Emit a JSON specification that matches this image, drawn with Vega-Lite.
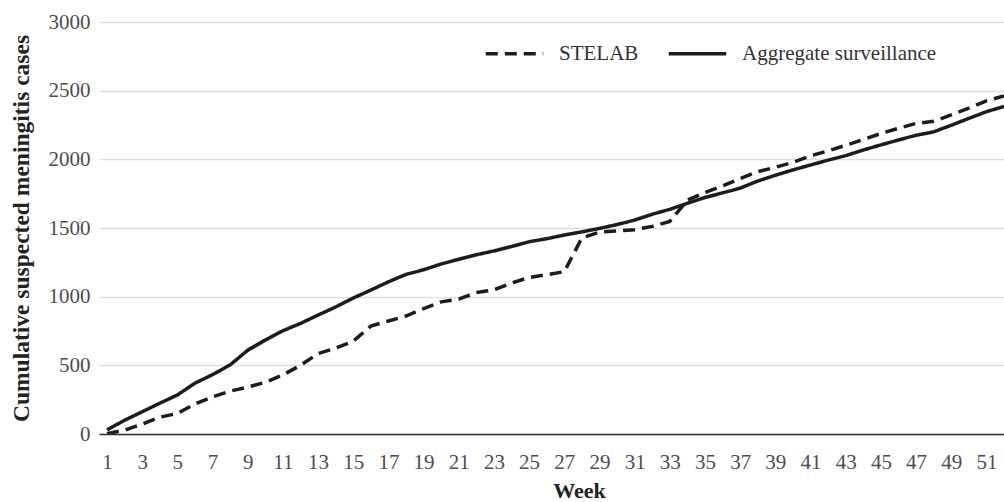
{
  "$schema": "https://vega.github.io/schema/vega-lite/v6.json",
  "width": 905,
  "height": 412,
  "autosize": {"type": "none"},
  "padding": {"left": 99, "top": 22, "right": 0, "bottom": 68},
  "background": "white",
  "config": {
    "font": "Liberation Serif, DejaVu Serif, serif",
    "view": {"stroke": null}
  },
  "datasets": {
    "weekly": [
      {"week": 1, "series": "STELAB", "cases": 2}, {"week": 2, "series": "STELAB", "cases": 28}, {"week": 3, "series": "STELAB", "cases": 72}, {"week": 4, "series": "STELAB", "cases": 122}, {"week": 5, "series": "STELAB", "cases": 150}, {"week": 6, "series": "STELAB", "cases": 218}, {"week": 7, "series": "STELAB", "cases": 270}, {"week": 8, "series": "STELAB", "cases": 312}, {"week": 9, "series": "STELAB", "cases": 342}, {"week": 10, "series": "STELAB", "cases": 376}, {"week": 11, "series": "STELAB", "cases": 430}, {"week": 12, "series": "STELAB", "cases": 500}, {"week": 13, "series": "STELAB", "cases": 585}, {"week": 14, "series": "STELAB", "cases": 626}, {"week": 15, "series": "STELAB", "cases": 675}, {"week": 16, "series": "STELAB", "cases": 786}, {"week": 17, "series": "STELAB", "cases": 823}, {"week": 18, "series": "STELAB", "cases": 859}, {"week": 19, "series": "STELAB", "cases": 913}, {"week": 20, "series": "STELAB", "cases": 962}, {"week": 21, "series": "STELAB", "cases": 982}, {"week": 22, "series": "STELAB", "cases": 1030}, {"week": 23, "series": "STELAB", "cases": 1049}, {"week": 24, "series": "STELAB", "cases": 1100}, {"week": 25, "series": "STELAB", "cases": 1140}, {"week": 26, "series": "STELAB", "cases": 1160}, {"week": 27, "series": "STELAB", "cases": 1182}, {"week": 28, "series": "STELAB", "cases": 1428}, {"week": 29, "series": "STELAB", "cases": 1470}, {"week": 30, "series": "STELAB", "cases": 1478}, {"week": 31, "series": "STELAB", "cases": 1488}, {"week": 32, "series": "STELAB", "cases": 1512}, {"week": 33, "series": "STELAB", "cases": 1548}, {"week": 34, "series": "STELAB", "cases": 1703}, {"week": 35, "series": "STELAB", "cases": 1758}, {"week": 36, "series": "STELAB", "cases": 1806}, {"week": 37, "series": "STELAB", "cases": 1860}, {"week": 38, "series": "STELAB", "cases": 1910}, {"week": 39, "series": "STELAB", "cases": 1942}, {"week": 40, "series": "STELAB", "cases": 1978}, {"week": 41, "series": "STELAB", "cases": 2025}, {"week": 42, "series": "STELAB", "cases": 2062}, {"week": 43, "series": "STELAB", "cases": 2102}, {"week": 44, "series": "STELAB", "cases": 2145}, {"week": 45, "series": "STELAB", "cases": 2188}, {"week": 46, "series": "STELAB", "cases": 2226}, {"week": 47, "series": "STELAB", "cases": 2262}, {"week": 48, "series": "STELAB", "cases": 2277}, {"week": 49, "series": "STELAB", "cases": 2323}, {"week": 50, "series": "STELAB", "cases": 2372}, {"week": 51, "series": "STELAB", "cases": 2426}, {"week": 52, "series": "STELAB", "cases": 2462},
      {"week": 1, "series": "Aggregate surveillance", "cases": 30}, {"week": 2, "series": "Aggregate surveillance", "cases": 100}, {"week": 3, "series": "Aggregate surveillance", "cases": 162}, {"week": 4, "series": "Aggregate surveillance", "cases": 224}, {"week": 5, "series": "Aggregate surveillance", "cases": 284}, {"week": 6, "series": "Aggregate surveillance", "cases": 370}, {"week": 7, "series": "Aggregate surveillance", "cases": 432}, {"week": 8, "series": "Aggregate surveillance", "cases": 503}, {"week": 9, "series": "Aggregate surveillance", "cases": 610}, {"week": 10, "series": "Aggregate surveillance", "cases": 684}, {"week": 11, "series": "Aggregate surveillance", "cases": 752}, {"week": 12, "series": "Aggregate surveillance", "cases": 805}, {"week": 13, "series": "Aggregate surveillance", "cases": 866}, {"week": 14, "series": "Aggregate surveillance", "cases": 925}, {"week": 15, "series": "Aggregate surveillance", "cases": 990}, {"week": 16, "series": "Aggregate surveillance", "cases": 1048}, {"week": 17, "series": "Aggregate surveillance", "cases": 1108}, {"week": 18, "series": "Aggregate surveillance", "cases": 1162}, {"week": 19, "series": "Aggregate surveillance", "cases": 1196}, {"week": 20, "series": "Aggregate surveillance", "cases": 1238}, {"week": 21, "series": "Aggregate surveillance", "cases": 1272}, {"week": 22, "series": "Aggregate surveillance", "cases": 1305}, {"week": 23, "series": "Aggregate surveillance", "cases": 1333}, {"week": 24, "series": "Aggregate surveillance", "cases": 1365}, {"week": 25, "series": "Aggregate surveillance", "cases": 1400}, {"week": 26, "series": "Aggregate surveillance", "cases": 1422}, {"week": 27, "series": "Aggregate surveillance", "cases": 1449}, {"week": 28, "series": "Aggregate surveillance", "cases": 1472}, {"week": 29, "series": "Aggregate surveillance", "cases": 1497}, {"week": 30, "series": "Aggregate surveillance", "cases": 1525}, {"week": 31, "series": "Aggregate surveillance", "cases": 1558}, {"week": 32, "series": "Aggregate surveillance", "cases": 1600}, {"week": 33, "series": "Aggregate surveillance", "cases": 1636}, {"week": 34, "series": "Aggregate surveillance", "cases": 1680}, {"week": 35, "series": "Aggregate surveillance", "cases": 1722}, {"week": 36, "series": "Aggregate surveillance", "cases": 1756}, {"week": 37, "series": "Aggregate surveillance", "cases": 1790}, {"week": 38, "series": "Aggregate surveillance", "cases": 1842}, {"week": 39, "series": "Aggregate surveillance", "cases": 1884}, {"week": 40, "series": "Aggregate surveillance", "cases": 1923}, {"week": 41, "series": "Aggregate surveillance", "cases": 1959}, {"week": 42, "series": "Aggregate surveillance", "cases": 1994}, {"week": 43, "series": "Aggregate surveillance", "cases": 2027}, {"week": 44, "series": "Aggregate surveillance", "cases": 2068}, {"week": 45, "series": "Aggregate surveillance", "cases": 2105}, {"week": 46, "series": "Aggregate surveillance", "cases": 2141}, {"week": 47, "series": "Aggregate surveillance", "cases": 2175}, {"week": 48, "series": "Aggregate surveillance", "cases": 2200}, {"week": 49, "series": "Aggregate surveillance", "cases": 2248}, {"week": 50, "series": "Aggregate surveillance", "cases": 2298}, {"week": 51, "series": "Aggregate surveillance", "cases": 2347}, {"week": 52, "series": "Aggregate surveillance", "cases": 2385}
    ]
  },
  "data": {"name": "weekly"},
  "mark": {"type": "line", "color": "#1c1c1c", "strokeWidth": 3.5, "clip": true},
  "encoding": {
    "x": {
      "field": "week",
      "type": "quantitative",
      "scale": {"domain": [0.545, 52.0], "nice": false, "zero": false},
      "axis": {
        "title": "Week",
        "values": [1, 3, 5, 7, 9, 11, 13, 15, 17, 19, 21, 23, 25, 27, 29, 31, 33, 35, 37, 39, 41, 43, 45, 47, 49, 51],
        "grid": false,
        "ticks": false,
        "domain": true,
        "domainColor": "#333333",
        "domainWidth": 1.5,
        "labelFont": "Liberation Serif, DejaVu Serif, serif",
        "labelFontSize": 21,
        "labelColor": "#4d4d4d",
        "labelPadding": 17,
        "labelFlush": false,
        "labelOverlap": false,
        "titleFont": "Liberation Serif, DejaVu Serif, serif",
        "titleFontSize": 22,
        "titleFontWeight": "bold",
        "titleColor": "#222222",
        "titleX": 480,
        "titleY": 63,
        "titleBaseline": "alphabetic"
      }
    },
    "y": {
      "field": "cases",
      "type": "quantitative",
      "scale": {"domain": [0, 3000], "nice": false},
      "axis": {
        "title": "Cumulative suspected meningitis cases",
        "values": [0, 500, 1000, 1500, 2000, 2500, 3000],
        "format": "d",
        "grid": true,
        "gridColor": "#dedede",
        "gridWidth": 1.3,
        "ticks": false,
        "domain": false,
        "labelFont": "Liberation Serif, DejaVu Serif, serif",
        "labelFontSize": 21,
        "labelColor": "#4d4d4d",
        "labelPadding": 9,
        "titleFont": "Liberation Serif, DejaVu Serif, serif",
        "titleFontSize": 23.5,
        "titleFontWeight": "bold",
        "titleColor": "#222222",
        "titlePadding": 15,
        "titleLimit": 600
      }
    },
    "strokeDash": {
      "field": "series",
      "type": "nominal",
      "scale": {"domain": ["STELAB", "Aggregate surveillance"], "range": [[12, 7], [1, 0]]},
      "legend": {
        "title": null,
        "orient": "none",
        "direction": "horizontal",
        "legendX": 385,
        "legendY": 1,
        "symbolType": "stroke",
        "symbolSize": 3300,
        "symbolStrokeWidth": 3.5,
        "symbolStrokeColor": "#1c1c1c",
        "labelFont": "Liberation Serif, DejaVu Serif, serif",
        "labelFontSize": 21,
        "labelColor": "#333333",
        "labelOffset": 14,
        "labelLimit": 400,
        "columnPadding": 22,
        "padding": 0
      }
    }
  }
}
